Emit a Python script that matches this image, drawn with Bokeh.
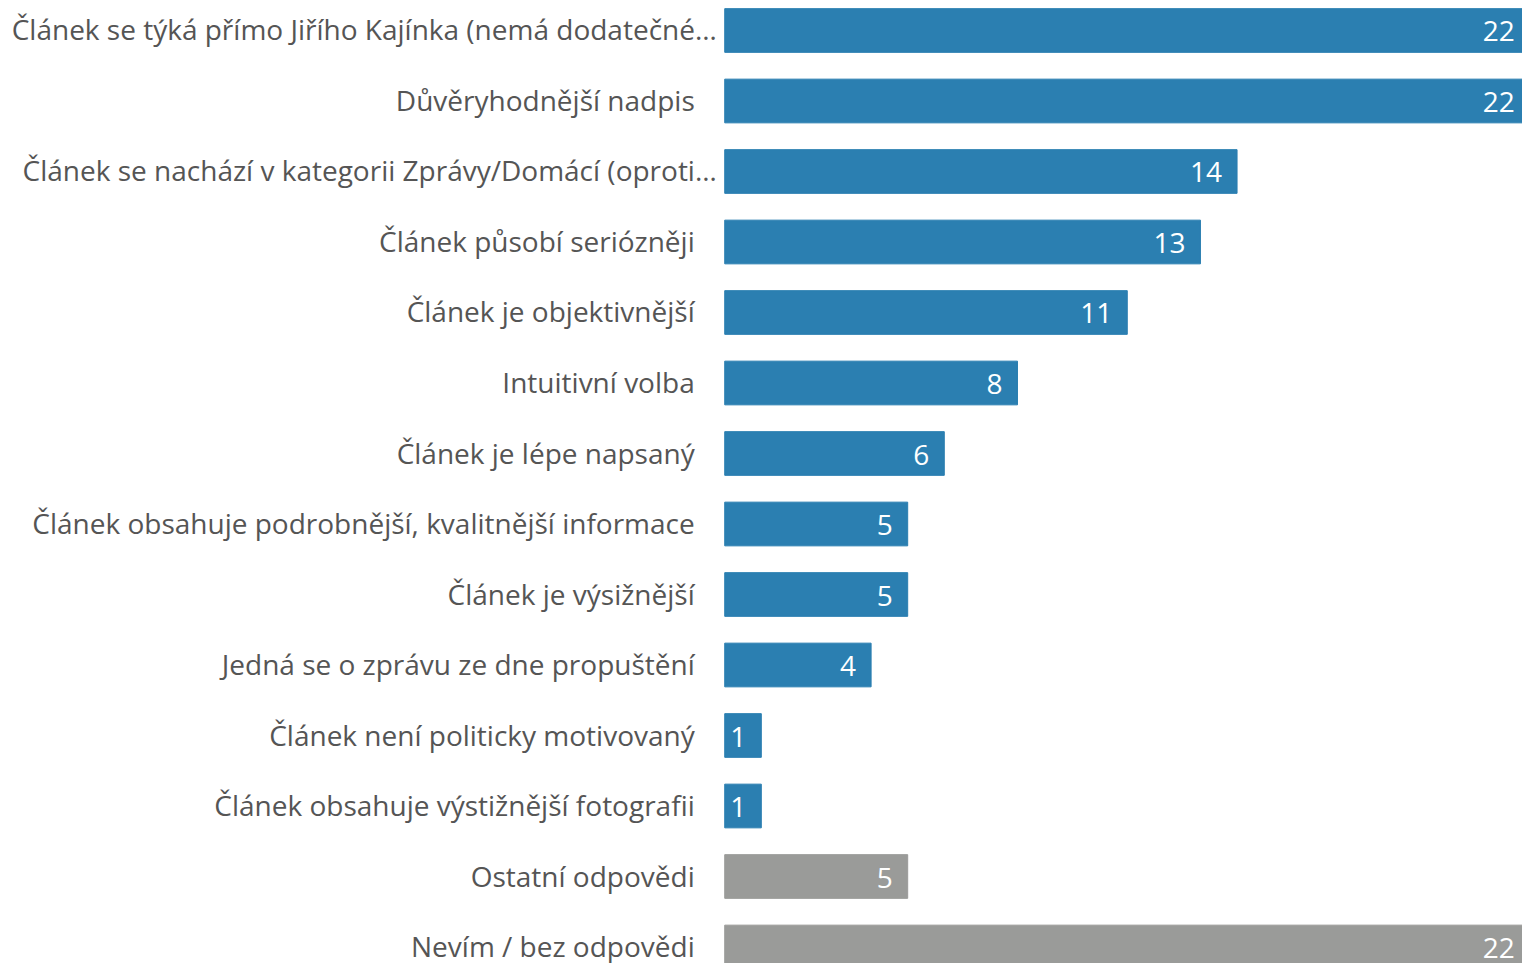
from bokeh.plotting import figure
from bokeh.models import ColumnDataSource, Range1d
from bokeh.core.properties import value
from bokeh.embed import file_html
from bokeh.resources import INLINE

categories = [
    "Článek se týká přímo Jiřího Kajínka (nemá dodatečné…",
    "Důvěryhodnější nadpis",
    "Článek se nachází v kategorii Zprávy/Domácí (oproti…",
    "Článek působí seriózněji",
    "Článek je objektivnější",
    "Intuitivní volba",
    "Článek je lépe napsaný",
    "Článek obsahuje podrobnější, kvalitnější informace",
    "Článek je výsižnější",
    "Jedná se o zprávu ze dne propuštění",
    "Článek není politicky motivovaný",
    "Článek obsahuje výstižnější fotografii",
    "Ostatní odpovědi",
    "Nevím / bez odpovědi",
]
values = [22, 22, 14, 13, 11, 8, 6, 5, 5, 4, 1, 1, 5, 22]
groups = ["main"] * 12 + ["other"] * 2

BLUE = "#2b7fb1"
GRAY = "#9a9b99"
TEXT = "#555555"
FONT = "Open Sans"

colors = [BLUE if g == "main" else GRAY for g in groups]
ypos = list(range(len(categories)))
# truncated labels (ending with an ellipsis) sit closer to the bars
cat_off = [-8 if c.endswith("…") else -30 for c in categories]

src = ColumnDataSource(dict(y=ypos, v=values, c=colors,
                            lab=[str(v) for v in values],
                            cat=categories, zero=[0] * len(values),
                            coff=cat_off))

# frame spans the whole canvas; the label column lives at negative x
p = figure(width=1522, height=963, output_backend="svg", toolbar_location=None,
           x_range=Range1d(-19.79, 21.8), y_range=Range1d(13.234, -0.4255),
           min_border=0)
p.hbar(y="y", right="v", left=0, height=0.62, color="c", source=src)

p.text(x="v", y="y", text="lab", source=src, text_align="right",
       text_baseline="middle", x_offset=-15, y_offset=1,
       text_color="white", text_font=value(FONT), text_font_size="28px")

p.text(x="zero", y="y", text="cat", source=src, text_align="right",
       text_baseline="middle", x_offset="coff", y_offset=-1,
       text_color=TEXT, text_font=value(FONT), text_font_size="28px")

p.xaxis.visible = False
p.yaxis.visible = False
p.grid.visible = False
p.outline_line_color = None

open("out.html", "w").write(file_html(p, INLINE))
